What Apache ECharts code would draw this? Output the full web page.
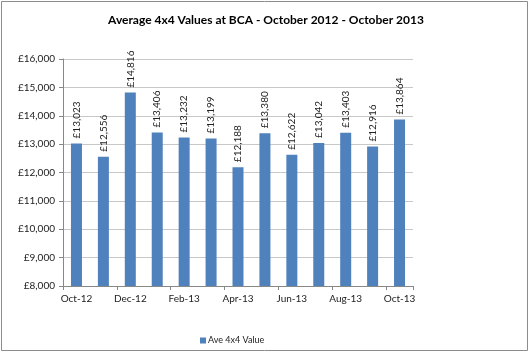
<!DOCTYPE html>
<html style="height: 100%">
<head>
    <meta charset="utf-8">
</head>
<body style="height: 100%; margin: 0; background: #fff">
<div id="container" style="width: 530px; height: 353px"></div>
<script type="text/javascript" src="https://cdn.jsdelivr.net/npm/echarts@6/dist/echarts.min.js"></script>
<script type="text/javascript">
    var months = ['Oct-12', 'Nov-12', 'Dec-12', 'Jan-13', 'Feb-13', 'Mar-13', 'Apr-13',
        'May-13', 'Jun-13', 'Jul-13', 'Aug-13', 'Sep-13', 'Oct-13'];
    var aveValues = [13023, 12556, 14816, 13406, 13232, 13199, 12188,
        13380, 12622, 13042, 13403, 12916, 13864];

    var fnt = 'Lato, "DejaVu Sans", sans-serif';
    function pounds(v) {
        return '£' + String(v).replace(/\B(?=(\d{3})+(?!\d))/g, ',');
    }

    var myChart = echarts.init(document.getElementById('container'));
    var option = {
        backgroundColor: '#fff',
        animation: false,
        title: {
            text: 'Average 4x4 Values at BCA - October 2012 - October 2013',
            left: 261, top: 9, textAlign: 'center',
            textStyle: { fontFamily: fnt, fontSize: 12, fontWeight: 'bold', color: '#000' }
        },
        legend: {
            left: 195, top: 331,
            itemWidth: 6, itemHeight: 6, itemGap: 5,
            icon: 'rect',
            textStyle: { fontFamily: fnt, fontSize: 9, color: '#222', padding: [0, 0, 0, -3] },
            data: ['Ave 4x4 Value']
        },
        graphic: [{
            type: 'rect',
            shape: { x: 1.5, y: 1.5, width: 526, height: 349 },
            style: { fill: 'none', stroke: '#8c8c8c', lineWidth: 1 }
        }],
        grid: { left: 63, right: 117, top: 59, bottom: 67 },
        xAxis: {
            type: 'category',
            data: months,
            axisLine: { lineStyle: { color: '#888' } },
            axisTick: { show: true, interval: 1, length: 4, lineStyle: { color: '#888' } },
            axisLabel: { interval: 1, fontFamily: fnt, fontSize: 10, color: '#222', margin: 8 }
        },
        yAxis: {
            type: 'value',
            min: 8000, max: 16000, interval: 1000,
            axisLine: { show: true, lineStyle: { color: '#888' } },
            axisTick: { show: true, length: 4, lineStyle: { color: '#888' } },
            splitLine: { lineStyle: { color: '#c8c8c8' } },
            axisLabel: {
                fontFamily: fnt, fontSize: 10, color: '#222', margin: 8,
                formatter: pounds
            }
        },
        series: [{
            name: 'Ave 4x4 Value',
            type: 'bar',
            data: aveValues,
            barWidth: 11,
            itemStyle: { color: '#4f81bd' },
            label: {
                show: true,
                position: 'top',
                rotate: 90,
                align: 'left',
                verticalAlign: 'middle',
                distance: 5,
                fontFamily: fnt, fontSize: 10, color: '#222',
                formatter: function (p) { return pounds(p.value); }
            }
        }]
    };
    myChart.setOption(option, true);
</script>
</body>
</html>
